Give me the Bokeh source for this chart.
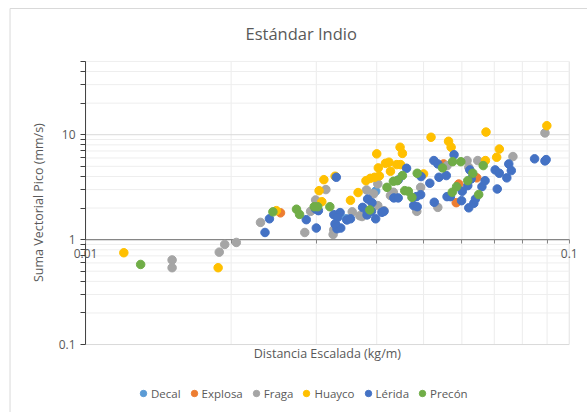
from math import pi
from bokeh.plotting import figure
from bokeh.models import FixedTicker, CustomJSTickFormatter, Legend, LegendItem, LogAxis
from bokeh.core.properties import value
from bokeh.embed import file_html
from bokeh.resources import INLINE

# ---------------- data ----------------
series_names = ["Decal", "Explosa", "Fraga", "Huayco", "Lérida", "Precón"]
series_colors = ["#5B9BD5", "#ED7D31", "#A5A5A5", "#FFC000", "#4472C4", "#70AD47"]

decal_x = [0.0346, 0.0398]
decal_y = [1.58, 2.90]

explosa_x = [0.0253, 0.0550, 0.0591, 0.0584, 0.0644]
explosa_y = [1.80, 5.27, 3.39, 2.25, 3.88]

fraga_x = [0.0151, 0.0151, 0.0189, 0.0194, 0.0205, 0.0230, 0.0284, 0.0292, 0.0299, 0.0314,
           0.0325, 0.0326, 0.0356, 0.0369, 0.0373, 0.0381, 0.0394, 0.0402, 0.0402, 0.0414,
           0.0427, 0.0433, 0.0484, 0.0493, 0.0535, 0.0559, 0.0615, 0.0620, 0.0647, 0.0765,
           0.0891]
fraga_y = [0.64, 0.54, 0.76, 0.90, 0.94, 1.46, 1.17, 1.86, 2.39, 3.00,
           1.12, 1.24, 1.84, 1.69, 1.66, 2.98, 2.73, 2.11, 3.40, 1.89,
           2.63, 2.83, 1.86, 3.15, 2.03, 5.07, 5.67, 4.89, 5.67, 6.19,
           10.4]

huayco_x = [0.0120, 0.0188, 0.0248, 0.0304, 0.0308, 0.0311, 0.0328, 0.0353, 0.0366, 0.0380,
            0.0388, 0.0396, 0.0405, 0.0400, 0.0403, 0.0417, 0.0424, 0.0440, 0.0448, 0.0427,
            0.0447, 0.0452, 0.0500, 0.0518, 0.0563, 0.0570, 0.0671, 0.0673, 0.0708, 0.0717,
            0.0899]
huayco_y = [0.75, 0.54, 1.89, 2.93, 2.30, 3.73, 4.02, 2.37, 2.81, 3.65,
            3.84, 3.93, 4.05, 6.57, 4.83, 5.34, 5.47, 5.19, 5.19, 4.48,
            7.60, 6.64, 4.23, 9.46, 8.66, 7.60, 5.67, 10.6, 6.10, 7.30,
            12.2]

lerida_x = [0.0235, 0.0240, 0.0286, 0.0300, 0.0299, 0.0303, 0.0330, 0.0326, 0.0336, 0.0329,
            0.0337, 0.0332, 0.0331, 0.0328, 0.0347, 0.0353, 0.0374, 0.0382, 0.0398, 0.0383,
            0.0391, 0.0414, 0.0434, 0.0443, 0.0461, 0.0477, 0.0485, 0.0483, 0.0493, 0.0494,
            0.0515, 0.0526, 0.0525, 0.0535, 0.0538, 0.0557, 0.0559, 0.0578, 0.0599, 0.0601,
            0.0617, 0.0620, 0.0623, 0.0627, 0.0635, 0.0640, 0.0660, 0.0670, 0.0703, 0.0717,
            0.0710, 0.0743, 0.0750, 0.0759, 0.0848, 0.0891, 0.0896,
            0.0382, 0.0390, 0.0410, 0.0443, 0.0568]
lerida_y = [1.17, 1.58, 1.55, 1.29, 1.96, 1.89, 3.93, 1.73, 1.81, 1.39,
            1.29, 1.63, 1.27, 1.41, 1.54, 1.58, 2.03, 1.72, 1.58, 2.44,
            2.25, 1.86, 2.50, 2.50, 4.79, 2.11, 2.06, 2.57, 2.68, 3.99,
            3.45, 2.27, 5.67, 5.27, 3.93, 4.08, 2.57, 6.45, 2.35, 2.89,
            3.27, 2.01, 4.62, 3.79, 2.22, 2.44, 3.20, 3.65, 4.62, 4.29,
            3.04, 3.88, 5.27, 4.55, 5.89, 5.63, 5.79,
            1.86, 1.86, 1.82, 3.70, 2.57]

precon_x = [0.0130, 0.0244, 0.0273, 0.0277, 0.0302, 0.0297, 0.0320, 0.0387, 0.0420, 0.0433,
            0.0441, 0.0452, 0.0457, 0.0465, 0.0473, 0.0485, 0.0547, 0.0574, 0.0597, 0.0573,
            0.0585, 0.0632, 0.0617, 0.0650, 0.0664]
precon_y = [0.58, 1.84, 1.95, 1.74, 2.06, 2.06, 2.06, 1.92, 3.15, 3.60,
            3.65, 4.08, 2.93, 2.89, 2.53, 4.29, 4.83, 5.53, 5.53, 2.83,
            3.20, 4.29, 3.65, 2.69, 5.08]

x_major_ticks = [0.01, 0.1]
x_minor_ticks = [0.02, 0.03, 0.04, 0.05, 0.06, 0.07, 0.08, 0.09]
y_major_ticks = [0.1, 1, 10]
y_minor_ticks = [0.2, 0.3, 0.4, 0.5, 0.6, 0.7, 0.8, 0.9,
                 2, 3, 4, 5, 6, 7, 8, 9, 20, 30, 40, 50]
y_axis_min, y_axis_max = 0.1, 50
x_cross = 1          # horizontal axis crosses the vertical one at y = 1

title_text = "Estándar Indio"
x_label = "Distancia Escalada (kg/m)"
y_label = "Suma Vectorial Pico (mm/s)"

FONT = "Open Sans"
TXT = "#595959"

# The frame covers the whole chart area (like Excel's chart area); the plotted
# decade, its axes and grid are drawn inside it, together with titles and legend.
X_VIEW = (0.006671, 0.1091)
Y_VIEW = (0.0225, 190.3)

p = figure(width=587, height=412, x_axis_type="log", y_axis_type="log",
           y_axis_location=None,
           x_range=X_VIEW, y_range=Y_VIEW,
           output_backend="svg", toolbar_location=None,
           min_border_left=0, min_border_right=0, min_border_top=0, min_border_bottom=0)
p.outline_line_color = None
p.background_fill_color = "white"
p.border_fill_color = "white"
p.title.visible = False

fmt_code = "return String(parseFloat(tick.toPrecision(6)))"

# ---- x axis crossing at y = 1
xt = FixedTicker(ticks=x_major_ticks, minor_ticks=x_minor_ticks)
xa = p.xaxis[0]
xa.ticker = xt
xa.formatter = CustomJSTickFormatter(code=fmt_code)
xa.fixed_location = x_cross
xa.axis_line_color = None
xa.major_tick_line_color = "#868686"
xa.minor_tick_line_color = "#868686"
xa.major_tick_in = 0
xa.minor_tick_in = 0
xa.major_tick_out = 4
xa.minor_tick_out = 4
xa.major_label_text_font = FONT
xa.major_label_text_font_size = "12px"
xa.major_label_text_color = TXT
xa.major_label_standoff = 5

# ---- vertical axis at x = 0.01
yt = FixedTicker(ticks=y_major_ticks, minor_ticks=y_minor_ticks)
yv = LogAxis(ticker=yt, formatter=CustomJSTickFormatter(code=fmt_code),
             fixed_location=x_major_ticks[0],
             axis_line_color=None, major_tick_line_color="#404040",
             minor_tick_line_color="#404040", major_tick_in=0, minor_tick_in=0,
             major_tick_out=5, minor_tick_out=5,
             major_label_text_font=FONT, major_label_text_font_size="12px",
             major_label_text_color=TXT, major_label_standoff=5)
p.add_layout(yv, "left")

for g in p.xgrid + p.ygrid:
    g.visible = False

x_lo, x_hi = x_major_ticks[0], x_major_ticks[-1]

# chart-area border (top and left edges are visible in the picture)
bx, by = 0.006981, 159.6
p.segment(x0=[bx, bx], y0=[by, by], x1=[X_VIEW[1], bx], y1=[by, Y_VIEW[0]],
          line_color="#d9d9d9", line_width=1, level="underlay")

# vertical grid lines (0.1 .. 50)
p.segment(x0=x_minor_ticks, y0=[y_axis_min] * len(x_minor_ticks),
          x1=x_minor_ticks, y1=[y_axis_max] * len(x_minor_ticks),
          line_color="#ececec", line_width=1, level="underlay")
p.segment(x0=x_major_ticks, y0=[y_axis_min] * len(x_major_ticks),
          x1=x_major_ticks, y1=[y_axis_max] * len(x_major_ticks),
          line_color="#e2e2e2", line_width=1, level="underlay")
# horizontal grid lines (0.01 .. 0.1)
gy_minor = [v for v in y_minor_ticks if y_axis_min <= v <= y_axis_max]
p.segment(x0=[x_lo] * len(gy_minor), y0=gy_minor, x1=[x_hi] * len(gy_minor), y1=gy_minor,
          line_color="#eeeeee", line_width=1, level="underlay")
p.segment(x0=[x_lo] * len(y_major_ticks), y0=y_major_ticks,
          x1=[x_hi] * len(y_major_ticks), y1=y_major_ticks,
          line_color="#d9d9d9", line_width=1, level="underlay")
# axis lines
p.segment(x0=[x_lo], y0=[x_cross], x1=[x_hi], y1=[x_cross],
          line_color="#868686", line_width=1.3)
p.segment(x0=[x_lo], y0=[y_axis_min], x1=[x_lo], y1=[y_axis_max],
          line_color="#404040", line_width=1)

# chart title
p.text(x=[0.02792], y=[93.2], text=[title_text], text_align="center",
       text_baseline="middle", text_font=value(FONT), text_font_size="16.5px",
       text_color=TXT)
# x-axis title, centred under the decade
p.text(x=[(x_lo * x_hi) ** 0.5], y=[0.082], text=[x_label], text_align="center",
       text_baseline="middle", text_font=value(FONT), text_font_size="12.5px",
       text_color=TXT)
# y-axis title
p.text(x=[0.007977], y=[2.254], text=[y_label], angle=pi / 2, text_align="center",
       text_baseline="middle", text_font=value(FONT), text_font_size="12.5px",
       text_color=TXT)

all_x = [decal_x, explosa_x, fraga_x, huayco_x, lerida_x, precon_x]
all_y = [decal_y, explosa_y, fraga_y, huayco_y, lerida_y, precon_y]

items = []
for name, col, xs, ys in zip(series_names, series_colors, all_x, all_y):
    r = p.scatter(xs, ys, size=8.5, fill_color=col, line_color=col)
    items.append(LegendItem(label=name, renderers=[r]))

legend = Legend(items=items, orientation="horizontal", location=(135, 11),
                background_fill_alpha=0, border_line_color=None, padding=0, margin=0,
                spacing=5, glyph_width=16, glyph_height=16, label_height=16,
                label_standoff=0, label_text_font=FONT, label_text_font_size="11.5px",
                label_text_color=TXT)
p.add_layout(legend, "center")

open("out.html", "w").write(file_html(p, INLINE))
